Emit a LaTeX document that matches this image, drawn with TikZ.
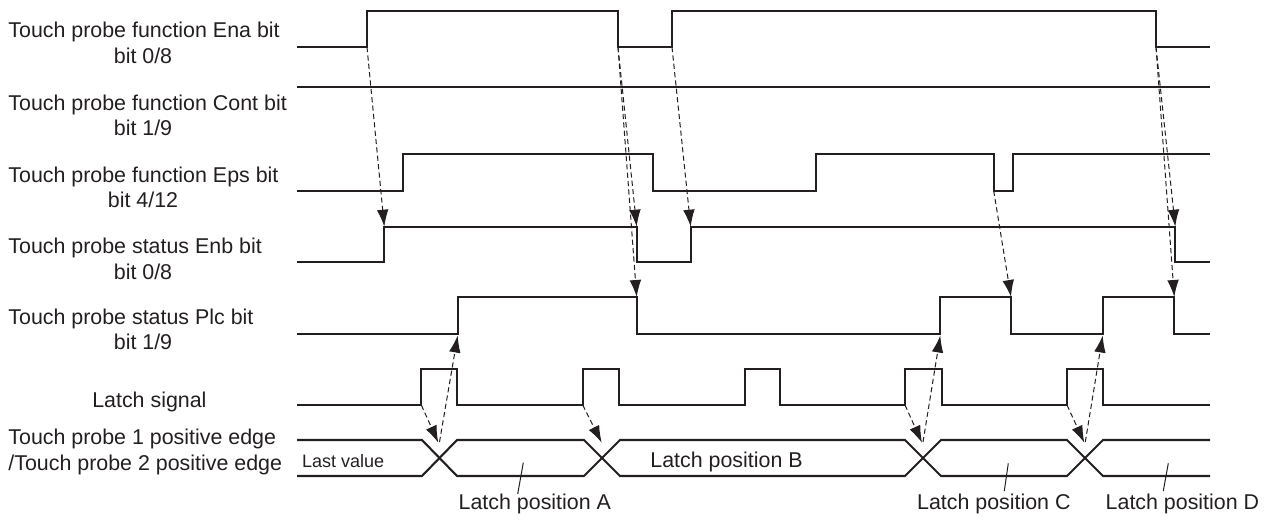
\documentclass[tikz,border=0pt]{standalone}
\usepackage{fontspec}
\setmainfont{Liberation Sans}
\usetikzlibrary{arrows.meta}
\definecolor{ink}{HTML}{231F20}
\begin{document}
\begin{tikzpicture}[x=0.5pt,y=-0.5pt,
  sig/.style={line width=1.05pt,draw=ink,line join=miter},
  dasharrow/.style={line width=0.5pt,draw=ink,dash pattern=on 2.6pt off 1.6pt,-{Latex[length=8.5pt,width=5.8pt]}},
  leader/.style={line width=0.5pt,draw=ink},
  lbl/.style={inner sep=0pt,font=\fontsize{10.7}{12}\selectfont,text=ink},
  smalllbl/.style={inner sep=0pt,font=\fontsize{9}{10}\selectfont,text=ink}]
\useasboundingbox (0,0) rectangle (1266,520);

% ---- left labels ----
\node[lbl,anchor=base west] (l1a) at (8,37) {Touch probe function Ena bit};
\node[lbl,anchor=base] (l1b) at (143,63.5) {bit 0/8};
\node[lbl,anchor=base west] (l2a) at (8,110) {Touch probe function Cont bit};
\node[lbl,anchor=base] (l2b) at (143,135.5) {bit 1/9};
\node[lbl,anchor=base west] (l3a) at (8,182) {Touch probe function Eps bit};
\node[lbl,anchor=base] (l3b) at (143,207.5) {bit 4/12};
\node[lbl,anchor=base west] (l4a) at (8,253) {Touch probe status Enb bit};
\node[lbl,anchor=base] (l4b) at (143,279.5) {bit 0/8};
\node[lbl,anchor=base west] (l5a) at (8,324.5) {Touch probe status Plc bit};
\node[lbl,anchor=base] (l5b) at (143,349.5) {bit 1/9};
\node[lbl,anchor=base] (l6) at (149.4,407.5) {Latch signal};
\node[lbl,anchor=base west] (l7a) at (8,444.5) {Touch probe 1 positive edge};
\node[lbl,anchor=base west] (l7b) at (8,470.5) {/Touch probe 2 positive edge};

% ---- signals ----
% Ena
\draw[sig] (297,47) -- (367,47) -- (367,10.7) -- (618,10.7) -- (618,47) -- (672,47) -- (672,10.7) -- (1156,10.7) -- (1156,47) -- (1210,47);
% Cont
\draw[sig] (297,87.3) -- (1210,87.3);
% Eps
\draw[sig] (297,190.7) -- (403.3,190.7) -- (403.3,154.3) -- (653.3,154.3) -- (653.3,190.7) -- (816.4,190.7) -- (816.4,154.3) -- (993.7,154.3) -- (993.7,190.7) -- (1012.7,190.7) -- (1012.7,154.3) -- (1210,154.3);
% Enb
\draw[sig] (297,262.3) -- (384.3,262.3) -- (384.3,226.7) -- (636.7,226.7) -- (636.7,262.3) -- (690.7,262.3) -- (690.7,226.7) -- (1175.3,226.7) -- (1175.3,262.3) -- (1210,262.3);
% Plc
\draw[sig] (297,334.3) -- (457.7,334.3) -- (457.7,297) -- (636.7,297) -- (636.7,334.3) -- (940.3,334.3) -- (940.3,297) -- (1011,297) -- (1011,334.3) -- (1102.7,334.3) -- (1102.7,297) -- (1174.3,297) -- (1174.3,334.3) -- (1210,334.3);
% Latch
\draw[sig] (297,405) -- (421.3,405) -- (421.3,369.3) -- (456.7,369.3) -- (456.7,405)
  -- (582.7,405) -- (582.7,369.3) -- (619,369.3) -- (619,405)
  -- (744.6,405) -- (744.6,369.3) -- (780.2,369.3) -- (780.2,405)
  -- (905,405) -- (905,369.3) -- (942,369.3) -- (942,405)
  -- (1067,405) -- (1067,369.3) -- (1102.7,369.3) -- (1102.7,405) -- (1210,405);
% Bus
\draw[sig] (297,440) -- (422,440) -- (457,476) -- (584,476) -- (620,440) -- (905,440) -- (941,476) -- (1067,476) -- (1103,440) -- (1210,440);
\draw[sig] (297,476) -- (422,476) -- (457,440) -- (584,440) -- (620,476) -- (905,476) -- (941,440) -- (1067,440) -- (1103,476) -- (1210,476);

% ---- bus texts ----
\node[smalllbl,anchor=base west] (lv) at (301.7,467) {Last value};
\node[lbl,anchor=base west] (lpb) at (650,467) {Latch position B};
\node[lbl,anchor=base west] (lpa) at (458.3,509.5) {Latch position A};
\node[lbl,anchor=base west] (lpc) at (916.7,509.5) {Latch position C};
\node[lbl,anchor=base west] (lpd) at (1105.3,509.5) {Latch position D};

% ---- leaders ----
\coordinate (ka1) at (523.3,462.7); \coordinate (ka2) at (517.7,494);
\coordinate (kc1) at (1008.3,463.3); \coordinate (kc2) at (1004.3,491);
\coordinate (kd1) at (1168.3,463.3); \coordinate (kd2) at (1163.3,491);
\draw[leader] (ka1) -- (ka2);
\draw[leader] (kc1) -- (kc2);
\draw[leader] (kd1) -- (kd2);

% ---- edge coordinates ----
\coordinate (enaR1) at (367,47);
\coordinate (enaF1) at (618,47);
\coordinate (enaR2) at (672,47);
\coordinate (enaF2) at (1156,47);
\coordinate (epsF2) at (993.7,190.7);
\coordinate (enbR1) at (384.3,226.7);
\coordinate (enbF1) at (636.7,226.7);
\coordinate (enbR2) at (690.7,226.7);
\coordinate (enbF2) at (1175.3,226.7);
\coordinate (plcF1) at (636.7,297);
\coordinate (plcF2) at (1011,297);
\coordinate (plcF3) at (1174.3,297);
\coordinate (plcR1) at (457.7,335.5);
\coordinate (plcR2) at (940.3,335.5);
\coordinate (plcR3) at (1102.7,335.5);
\coordinate (latR1) at (421.3,405);
\coordinate (latR2) at (582.7,405);
\coordinate (latR4) at (905,405);
\coordinate (latR5) at (1067,405);
\coordinate (busX1) at (438.3,442.7);
\coordinate (busX2) at (601.7,442.7);
\coordinate (busX3) at (922,442.7);
\coordinate (busX4) at (1084.3,442.7);
\coordinate (busU1) at (439.5,442);
\coordinate (busU3) at (923,442);
\coordinate (busU4) at (1085.3,442);

% ---- dashed arrows ----
\draw[dasharrow] (enaR1) -- (enbR1);
\draw[dasharrow] (enaF1) -- (enbF1);
\draw[dasharrow] (enaF1) -- (plcF1);
\draw[dasharrow] (enaR2) -- (enbR2);
\draw[dasharrow] (enaF2) -- (enbF2);
\draw[dasharrow] (enaF2) -- (plcF3);
\draw[dasharrow] (epsF2) -- (plcF2);
\draw[dasharrow] (latR1) -- (busX1);
\draw[dasharrow] (latR2) -- (busX2);
\draw[dasharrow] (latR4) -- (busX3);
\draw[dasharrow] (latR5) -- (busX4);
\draw[dasharrow] (busU1) -- (plcR1);
\draw[dasharrow] (busU3) -- (plcR2);
\draw[dasharrow] (busU4) -- (plcR3);
\end{tikzpicture}
\end{document}
